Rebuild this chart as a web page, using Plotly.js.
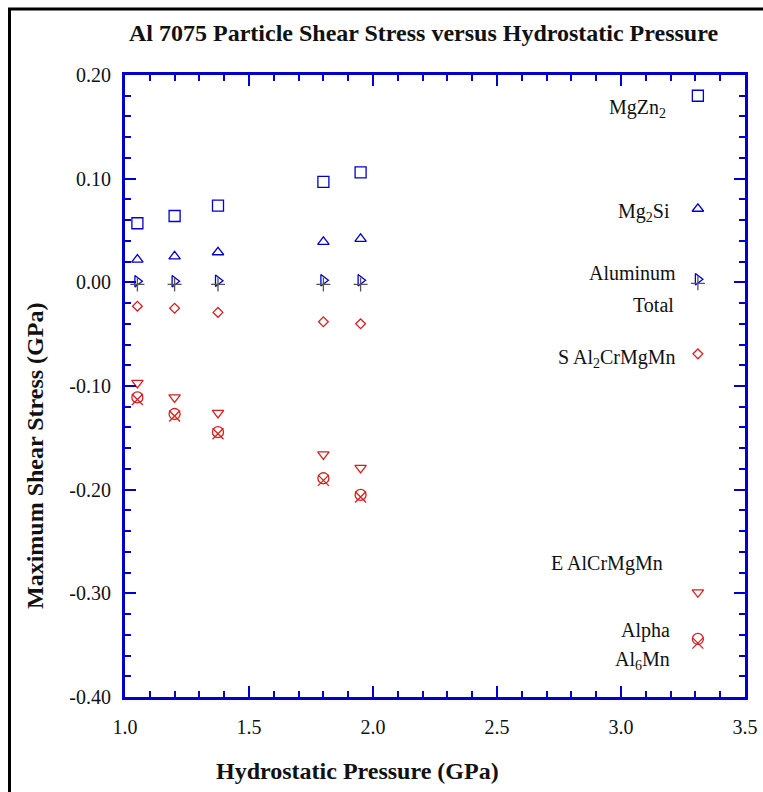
<!DOCTYPE html>
<html>
<head>
<meta charset="utf-8">
<script src="https://cdn.plot.ly/plotly-3.0.1.min.js"></script>
<style>html,body{margin:0;padding:0;background:#fff;}#chart{width:763px;height:792px;}</style>
</head>
<body>
<div id="chart"></div>
<script>
// Hydrostatic pressure (GPa)
const pressure = [1.05, 1.2, 1.375, 1.8, 1.95];

// Maximum shear stress (GPa) per phase
const mgZn2    = [0.057, 0.064, 0.074, 0.097, 0.106];
const mg2Si    = [0.022, 0.025, 0.029, 0.039, 0.042];
const aluminum = [0.001, 0.001, 0.0015, 0.002, 0.002];
const total    = [-0.002, -0.002, -0.002, -0.002, -0.002];
const sPhase   = [-0.023, -0.025, -0.029, -0.038, -0.040];
const ePhase   = [-0.097, -0.111, -0.126, -0.166, -0.179];
const alpha    = [-0.111, -0.127, -0.1445, -0.189, -0.205];
const al6Mn    = [-0.113, -0.129, -0.146, -0.191, -0.207];

// Key markers (inline legend) at the right side
const keyX = 3.31;
const keyY = {mgZn2: 0.180, mg2Si: 0.071, aluminum: 0.003, total: -0.001,
              sPhase: -0.069, ePhase: -0.299, alpha: -0.344, al6Mn: -0.348};

const labels = {
  mgZn2: 'MgZn<sub>2</sub>', mg2Si: 'Mg<sub>2</sub>Si', aluminum: 'Aluminum', total: 'Total',
  sPhase: 'S Al<sub>2</sub>CrMgMn', ePhase: 'E AlCrMgMn', alpha: 'Alpha', al6Mn: 'Al<sub>6</sub>Mn'
};

// Tick labels
const xTickVals = [1.0, 1.5, 2.0, 2.5, 3.0, 3.5];
const xTickText = ['1.0', '1.5', '2.0', '2.5', '3.0', '3.5'];
const yTickVals = [0.2, 0.1, 0.0, -0.1, -0.2, -0.3, -0.4];
const yTickText = ['0.20', '0.10', '0.00', '-0.10', '-0.20', '-0.30', '-0.40'];

const BLUE = '#0000cc', RED = '#d42020', GRAY = '#555555';
const series = [
  {key:'mgZn2', y:mgZn2, sym:'square-open', color:BLUE, size:11},
  {key:'mg2Si', y:mg2Si, sym:'triangle-up-open', color:BLUE, size:10},
  {key:'aluminum', y:aluminum, sym:'triangle-right-open', color:BLUE, size:10},
  {key:'total', y:total, sym:'cross-thin-open', color:GRAY, size:10},
  {key:'sPhase', y:sPhase, sym:'diamond-open', color:RED, size:7.5},
  {key:'ePhase', y:ePhase, sym:'triangle-down-open', color:RED, size:10},
  {key:'alpha', y:alpha, sym:'circle-open', color:RED, size:11},
  {key:'al6Mn', y:al6Mn, sym:'x-thin-open', color:RED, size:11}
];
const data = series.map(s => ({
  type:'scatter', mode:'markers',
  x: pressure.concat([keyX]), y: s.y.concat([keyY[s.key]]),
  name: s.key,
  marker:{symbol:s.sym, size:s.size, color:s.color, line:{color:s.color, width:1.3}},
  showlegend:false, hoverinfo:'skip'
}));

// Label placement (layout only)
const labelPos = {
  mgZn2:[3.19,0.168], mg2Si:[3.206,0.067], aluminum:[3.23,0.009], total:[3.222,-0.022],
  sPhase:[3.23,-0.073], ePhase:[3.177,-0.271], alpha:[3.206,-0.336], al6Mn:[3.206,-0.365]
};
const FONT = 'Liberation Serif, Times New Roman, serif';
const annotations = Object.keys(labels).map(k => ({
  xref:'x', yref:'y', x:labelPos[k][0], y:labelPos[k][1], text:labels[k],
  xanchor:'right', yanchor:'middle', showarrow:false,
  font:{family:FONT, size:20, color:'#111'}
}));
annotations.push({
  xref:'paper', yref:'paper', x:(423-125)/620, y:(697-33)/622, xanchor:'center', yanchor:'middle',
  text:'<b>Al 7075 Particle Shear Stress versus Hydrostatic Pressure</b>', showarrow:false,
  font:{family:FONT, size:24, color:'#111'}
});
annotations.push({
  xref:'paper', yref:'paper', x:(357-125)/620, y:-(771-697)/622, xanchor:'center', yanchor:'middle',
  text:'<b>Hydrostatic Pressure (GPa)</b>', showarrow:false,
  font:{family:FONT, size:24, color:'#111'}
});
annotations.push({
  xref:'paper', yref:'paper', x:(35-125)/620, y:(697-456)/622, xanchor:'center', yanchor:'middle',
  text:'<b>Maximum Shear Stress (GPa)</b>', showarrow:false, textangle:-90,
  font:{family:FONT, size:24, color:'#111'}
});

const axisCommon = {
  showline:true, linecolor:BLUE, linewidth:3, mirror:'allticks',
  ticks:'inside', ticklen:11, tickwidth:2, tickcolor:BLUE,
  showgrid:false, zeroline:false,
  tickfont:{family:FONT, size:20, color:'#111'}
};
const layout = {
  width:763, height:792,
  margin:{l:125, r:18, t:75, b:95},
  paper_bgcolor:'#fff', plot_bgcolor:'#fff',
  xaxis: Object.assign({}, axisCommon, {
    range:[1.0,3.5], tickmode:'array', tickvals:xTickVals, ticktext:xTickText, ticklabelstandoff:10,
    minor:{tickmode:'linear', tick0:1.0, dtick:0.1, ticks:'inside', ticklen:6, tickwidth:2, tickcolor:BLUE, showgrid:false}
  }),
  yaxis: Object.assign({}, axisCommon, {
    range:[-0.40,0.20], tickmode:'array', tickvals:yTickVals, ticktext:yTickText, ticklabelstandoff:7,
    minor:{tickmode:'linear', tick0:0, dtick:0.02, ticks:'inside', ticklen:6, tickwidth:2, tickcolor:BLUE, showgrid:false}
  }),
  annotations: annotations,
  shapes:[{type:'rect', xref:'paper', yref:'paper',
    x0:(9.5-125)/620, x1:2, y0:-1, y1:(697-9)/622,
    line:{color:'#000', width:3}, fillcolor:'rgba(0,0,0,0)', layer:'below'}]
};
Plotly.newPlot('chart', data, layout, {displayModeBar:false, staticPlot:true});
</script>
</body>
</html>
